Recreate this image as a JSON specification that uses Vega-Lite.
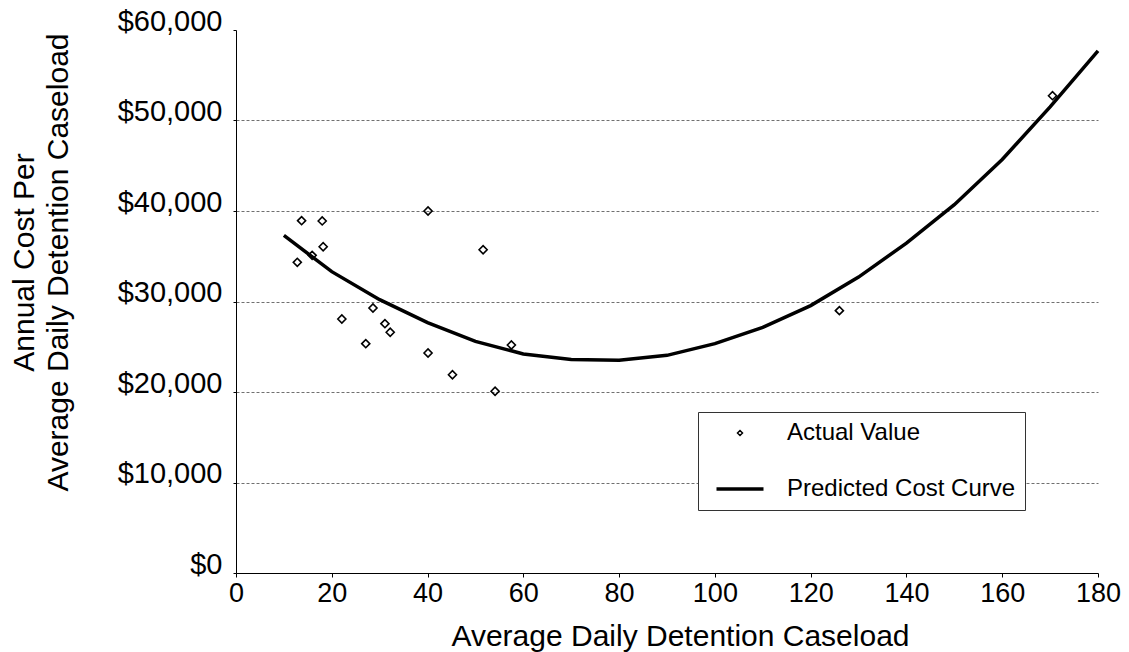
{
  "$schema": "https://vega.github.io/schema/vega-lite/v6.json",
  "width": 862,
  "height": 543,
  "autosize": {"type": "none"},
  "padding": {"left": 236, "top": 30, "right": 31, "bottom": 79},
  "background": "white",
  "config": {"view": {"stroke": null}},
  "datasets": {
    "actual": [
      {"caseload": 13.7, "cost": 38930},
      {"caseload": 18.0, "cost": 38900},
      {"caseload": 18.2, "cost": 36050},
      {"caseload": 12.8, "cost": 34330},
      {"caseload": 15.9, "cost": 35100},
      {"caseload": 40.1, "cost": 40000},
      {"caseload": 51.6, "cost": 35720},
      {"caseload": 22.1, "cost": 28070},
      {"caseload": 28.6, "cost": 29280},
      {"caseload": 31.1, "cost": 27550},
      {"caseload": 32.2, "cost": 26600},
      {"caseload": 27.1, "cost": 25340},
      {"caseload": 40.1, "cost": 24310},
      {"caseload": 57.5, "cost": 25190},
      {"caseload": 45.2, "cost": 21910},
      {"caseload": 54.1, "cost": 20080},
      {"caseload": 126.0, "cost": 28990},
      {"caseload": 170.5, "cost": 52740}
    ],
    "curve": [
      {"caseload": 10, "cost": 37300},
      {"caseload": 20, "cost": 33300},
      {"caseload": 30, "cost": 30200},
      {"caseload": 40, "cost": 27660},
      {"caseload": 50, "cost": 25600},
      {"caseload": 60, "cost": 24200},
      {"caseload": 70, "cost": 23600},
      {"caseload": 80, "cost": 23500},
      {"caseload": 90, "cost": 24050},
      {"caseload": 100, "cost": 25350},
      {"caseload": 110, "cost": 27150},
      {"caseload": 120, "cost": 29550},
      {"caseload": 130, "cost": 32700},
      {"caseload": 140, "cost": 36450},
      {"caseload": 150, "cost": 40700},
      {"caseload": 160, "cost": 45700},
      {"caseload": 170, "cost": 51500},
      {"caseload": 180, "cost": 57700}
    ]
  },
  "encoding": {
    "x": {
      "field": "caseload",
      "type": "quantitative",
      "scale": {"domain": [0, 180], "nice": false, "zero": false},
      "axis": {
        "values": [0, 20, 40, 60, 80, 100, 120, 140, 160, 180],
        "grid": false,
        "domainColor": "black",
        "domainWidth": 1,
        "tickColor": "black",
        "tickSize": 4,
        "labelFont": "Liberation Sans",
        "labelFontSize": 27,
        "labelColor": "black",
        "labelPadding": 3,
        "labelFlush": false,
        "labelOverlap": false,
        "title": "Average Daily Detention Caseload",
        "titleFont": "Liberation Sans",
        "titleFontSize": 30,
        "titleFontWeight": "normal",
        "titleColor": "black",
        "titleX": 444,
        "titleY": 72,
        "titleBaseline": "alphabetic"
      }
    },
    "y": {
      "field": "cost",
      "type": "quantitative",
      "scale": {"domain": [0, 60000], "nice": false},
      "axis": {
        "values": [0, 10000, 20000, 30000, 40000, 50000, 60000],
        "format": "$,.0f",
        "grid": true,
        "gridDash": [3, 2],
        "gridColor": "#707070",
        "gridWidth": 1,
        "gridOpacity": {"condition": {"test": "datum.value === 0 || datum.value === 60000", "value": 0}, "value": 1},
        "domainColor": "black",
        "domainWidth": 1,
        "tickColor": "black",
        "tickSize": 3,
        "labelFont": "Liberation Sans",
        "labelFontSize": 29,
        "labelColor": "black",
        "labelPadding": 11,
        "labelBaseline": "alphabetic",
        "labelFlush": false,
        "labelOverlap": false,
        "title": ["Annual Cost Per", "Average Daily Detention Caseload"],
        "titleFont": "Liberation Sans",
        "titleFontSize": 30,
        "titleFontWeight": "normal",
        "titleColor": "black",
        "titleLineHeight": 34,
        "titleAngle": 270,
        "titleAlign": "center",
        "titleBaseline": "alphabetic",
        "titleX": -203,
        "titleY": 232
      }
    }
  },
  "layer": [
    {
      "data": {"name": "curve"},
      "mark": {"type": "line", "strokeWidth": 3.5},
      "encoding": {
        "color": {
          "datum": "Predicted Cost Curve",
          "type": "nominal",
          "scale": {"domain": ["Actual Value", "Predicted Cost Curve"], "range": ["black", "black"]},
          "legend": {
            "title": null,
            "orient": "none",
            "legendX": 462,
            "legendY": 382,
            "strokeColor": "#333333",
            "fillColor": "white",
            "padding": 9,
            "symbolOffset": 21,
            "labelFont": "Liberation Sans",
            "labelFontSize": 24,
            "labelColor": "black",
            "labelLimit": 0,
            "labelOffset": 35,
            "rowPadding": 32,
            "symbolSize": 2209,
            "encode": {
              "symbols": {
                "update": {
                  "shape": {"signal": "datum.value === 'Actual Value' ? 'diamond' : 'stroke'"},
                  "size": {"signal": "datum.value === 'Actual Value' ? 25 : 2209"},
                  "strokeWidth": {"signal": "datum.value === 'Actual Value' ? 1.5 : 3.5"},
                  "fill": {"value": "transparent"},
                  "stroke": {"value": "black"},
                  "opacity": {"value": 1}
                }
              }
            }
          }
        }
      }
    },
    {
      "data": {"name": "actual"},
      "mark": {"type": "point", "shape": "diamond", "filled": false, "size": 65, "strokeWidth": 1.6, "opacity": 1},
      "encoding": {
        "color": {"datum": "Actual Value", "type": "nominal"}
      }
    }
  ]
}
